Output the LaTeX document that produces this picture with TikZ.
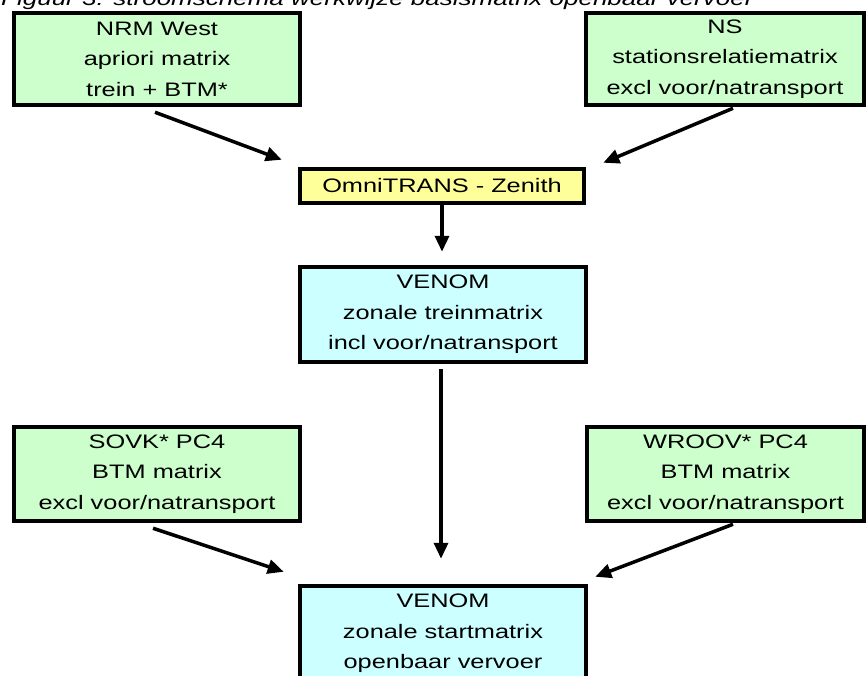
\documentclass[tikz,border=0pt]{standalone}
\usepackage{fontspec}
\setmainfont[FakeStretch=1.3]{Liberation Sans}
\usetikzlibrary{arrows.meta,calc}
\definecolor{groen}{HTML}{CCFFCC}
\definecolor{geel}{HTML}{FFFF99}
\definecolor{cyaan}{HTML}{CCFFFF}
\begin{document}
\begin{tikzpicture}[x=1pt,y=-1pt,
    box/.style={draw=black,line width=4.5pt,inner sep=0pt,align=center,
      font=\fontsize{19.5}{30.5}\selectfont},
    bronbox/.style={box,fill=groen},
    modelbox/.style={box,fill=geel},
    matrixbox/.style={box,fill=cyaan},
    pijl/.style={line width=3.5pt,-{Triangle[length=16pt,width=14pt]}}]
                    \useasboundingbox (0,0) rectangle (866,676);
                    \clip (0,0) rectangle (866,676);

                    % Caption (cut off at the top)
                    \node [anchor=base west,inner sep=0pt,font=\fontsize{20}{24}\selectfont\itshape] (caption) at (1,6) {Figuur 3: stroomschema werkwijze basismatrix openbaar vervoer};%

                    % Source NRM West
                    \node [bronbox,minimum width=286pt,minimum height=92pt] (nrm) at (157,59) {NRM West\\apriori matrix\\trein + BTM*};%

                    % Source NS
                    \node [bronbox,minimum width=278pt,minimum height=92pt] (ns) at (725,59) {NS\\stationsrelatiematrix\\excl voor/natransport};%

                    % Model OmniTRANS
                    \node [modelbox,minimum width=284pt,minimum height=34pt] (omni) at (442,186) {OmniTRANS - Zenith};%

                    % Matrix VENOM trein
                    \node [matrixbox,minimum width=286pt,minimum height=95pt] (trein) at (443,314.5) {VENOM\\zonale treinmatrix\\incl voor/natransport};%

                    % Source SOVK
                    \node [bronbox,minimum width=286pt,minimum height=94pt] (sovk) at (157,474) {SOVK* PC4\\BTM matrix\\excl voor/natransport};%

                    % Source WROOV
                    \node [bronbox,minimum width=277pt,minimum height=94pt] (wroov) at (725.5,474) {WROOV* PC4\\BTM matrix\\excl voor/natransport};%

                    % Matrix VENOM start
                    \node [matrixbox,minimum width=286pt,minimum height=95pt] (start) at (443,633.5) {VENOM\\zonale startmatrix\\openbaar vervoer};%

                    % Arrows into OmniTRANS
                    \draw [pijl] ($(nrm.south)+(-2,5)$) -- ($(omni.north west)+(-16,-7)$);%
                    \draw [pijl] ($(ns.south)+(8,1)$) -- ($(omni.north east)+(17,-4)$);%

                    % OmniTRANS to treinmatrix
                    \draw [pijl] (omni.south) -- ($(trein.north)+(-1,-13)$);%

                    % Treinmatrix to startmatrix
                    \draw [pijl] ($(trein.south)+(-2,5)$) -- ($(start.north)+(-2,-25)$);%

                    % Arrows into startmatrix
                    \draw [pijl] ($(sovk.south)+(-4,5)$) -- ($(start.north west)+(-14,-12)$);%
                    \draw [pijl] ($(wroov.south)+(7.5,1)$) -- ($(start.north east)+(7,-7)$);%
\end{tikzpicture}
\end{document}
